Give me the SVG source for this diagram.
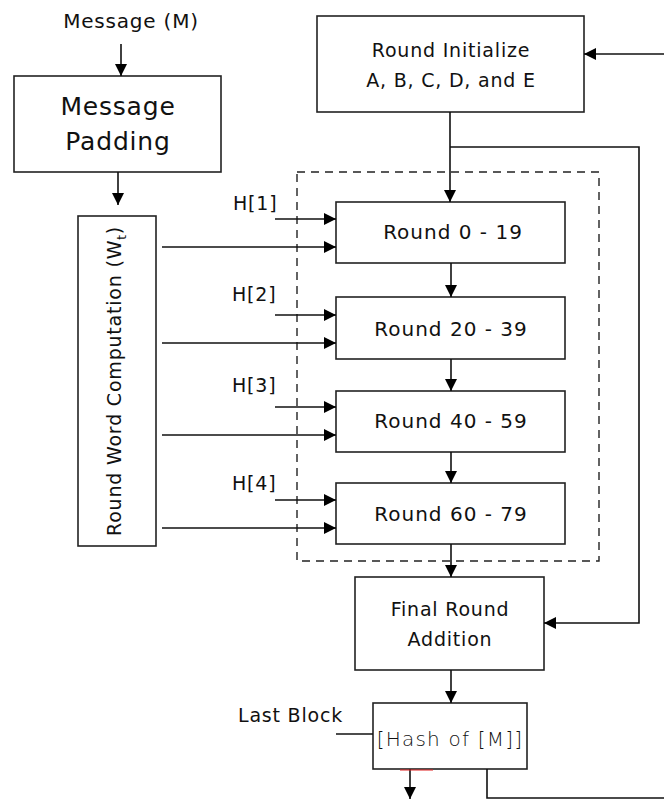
<svg xmlns="http://www.w3.org/2000/svg" width="664" height="800" viewBox="0 0 664 800">
<defs>
<marker id="ah" markerUnits="userSpaceOnUse" markerWidth="12" markerHeight="12" viewBox="0 0 12 12" refX="12" refY="6" orient="auto">
<path d="M0,0 L12,6 L0,12 Z" fill="#000"/>
</marker>
</defs>
<style>
.box{fill:#fff;stroke:#222;stroke-width:1.6}
.t{font-family:"DejaVu Sans","Noto Sans",sans-serif;fill:#111;text-anchor:middle;letter-spacing:0.8px}
.s{text-anchor:start}
.ln{fill:none;stroke:#111;stroke-width:1.6}
.ar{fill:none;stroke:#111;stroke-width:1.6;marker-end:url(#ah)}
</style>
<rect width="664" height="800" fill="#fff"/>
<text class="t" x="131" y="28" font-size="20">Message (M)</text>
<text class="t s" x="233" y="210" font-size="19">H[1]</text>
<text class="t s" x="232" y="301" font-size="19">H[2]</text>
<text class="t s" x="232" y="392" font-size="19">H[3]</text>
<text class="t s" x="232" y="490" font-size="19">H[4]</text>
<text class="t s" x="238" y="722" font-size="19">Last Block</text>
<rect x="297" y="172" width="302" height="389" fill="none" stroke="#222" stroke-width="1.4" stroke-dasharray="8,6"/>
<g id="msgpad"><rect class="box" x="14" y="76" width="207" height="96"/>
<text class="t" x="118" y="115" font-size="25">Message</text>
<text class="t" x="118" y="150" font-size="25">Padding</text></g>
<g id="rwc"><rect class="box" x="78" y="216" width="78" height="330"/>
<text class="t" transform="translate(121,381) rotate(-90)" font-size="19">Round Word Computation (W<tspan font-size="12" dy="5">t</tspan><tspan dy="-5">)</tspan></text></g>
<g id="init"><rect class="box" x="317" y="16" width="267" height="96"/>
<text class="t" x="451" y="57" font-size="19">Round Initialize</text>
<text class="t" x="451" y="87" font-size="19">A, B, C, D, and E</text></g>
<g id="r0"><rect class="box" x="336" y="202" width="229" height="61"/>
<text class="t" x="453" y="239" font-size="20" style="letter-spacing:1px">Round 0 - 19</text></g>
<g id="r20"><rect class="box" x="336" y="297" width="229" height="62"/>
<text class="t" x="451" y="336" font-size="20" style="letter-spacing:1px">Round 20 - 39</text></g>
<g id="r40"><rect class="box" x="336" y="391" width="229" height="61"/>
<text class="t" x="451" y="428" font-size="20" style="letter-spacing:1px">Round 40 - 59</text></g>
<g id="r60"><rect class="box" x="336" y="483" width="229" height="61"/>
<text class="t" x="451" y="521" font-size="20" style="letter-spacing:1px">Round 60 - 79</text></g>
<g id="final"><rect class="box" x="355" y="577" width="189" height="93"/>
<text class="t" x="450" y="616" font-size="19">Final Round</text>
<text class="t" x="450" y="646" font-size="19">Addition</text></g>
<g id="hash"><rect class="box" x="373" y="703" width="154" height="66"/>
<text class="t" x="450" y="746" font-size="20" font-weight="200" style="letter-spacing:1.2px">[Hash of [M]]</text></g>
<g id="connectors">
<line class="ar" x1="121" y1="44" x2="121" y2="76"/>
<line class="ar" x1="118" y1="172" x2="118" y2="205"/>
<line class="ar" x1="275" y1="219" x2="336" y2="219"/>
<line class="ar" x1="162" y1="247" x2="336" y2="247"/>
<line class="ar" x1="275" y1="315" x2="336" y2="315"/>
<line class="ar" x1="162" y1="343" x2="336" y2="343"/>
<line class="ar" x1="275" y1="407" x2="336" y2="407"/>
<line class="ar" x1="162" y1="435" x2="336" y2="435"/>
<line class="ar" x1="275" y1="500" x2="336" y2="500"/>
<line class="ar" x1="162" y1="528" x2="336" y2="528"/>
<line class="ar" x1="450" y1="112" x2="450" y2="202"/>
<polyline class="ar" points="450,147 639,147 639,623 544,623"/>
<line class="ar" x1="451" y1="263" x2="451" y2="297"/>
<line class="ar" x1="451" y1="359" x2="451" y2="391"/>
<line class="ar" x1="451" y1="452" x2="451" y2="483"/>
<line class="ar" x1="451" y1="544" x2="451" y2="577"/>
<line class="ar" x1="451" y1="670" x2="451" y2="703"/>
<line class="ln" x1="336" y1="734" x2="373" y2="734"/>
<line class="ar" x1="410" y1="769" x2="410" y2="799"/>
<polyline class="ln" points="487,769 487,798 664,798"/>
<line class="ar" x1="664" y1="54" x2="584" y2="54"/>
<line x1="400" y1="770" x2="433" y2="770" stroke="#e02020" stroke-width="1"/>
</g>
</svg>
